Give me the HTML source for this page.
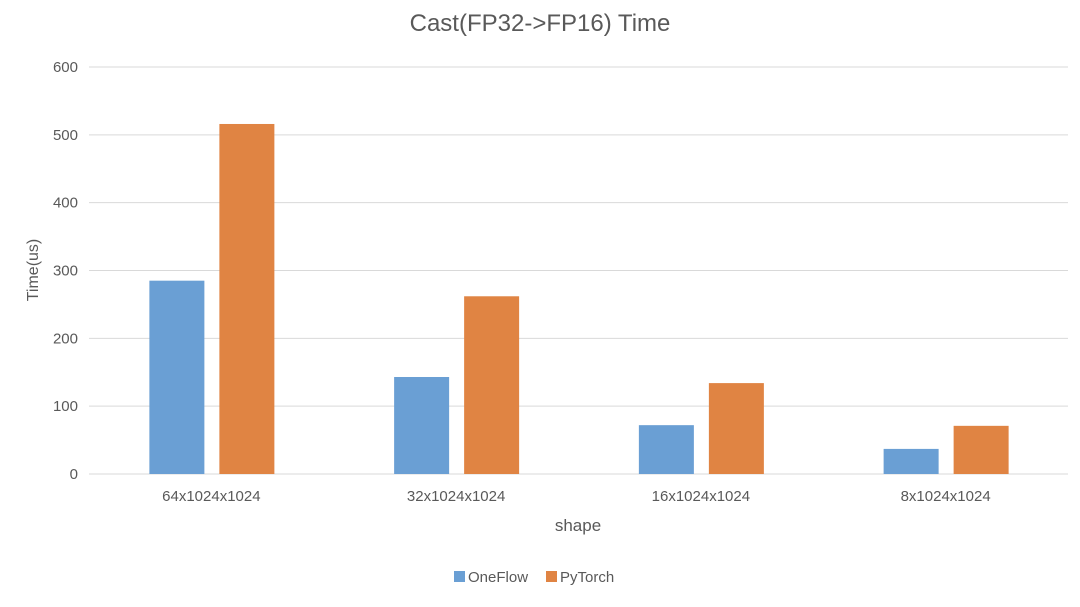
<!DOCTYPE html>
<html><head><meta charset="utf-8"><style>
body{margin:0;background:#fff;font-family:"Liberation Sans",sans-serif}
svg text{font-family:"Liberation Sans",sans-serif;fill:#595959}
</style></head><body>
<svg id="chart" width="1080" height="602">
<text x="540" y="31" text-anchor="middle" font-size="24">Cast(FP32-&gt;FP16) Time</text>
<g id="grid"></g><g id="bars"></g><g id="xl"></g>
<text x="38" y="270" text-anchor="middle" font-size="16" transform="rotate(-90 38 270)">Time(us)</text>
<text x="578" y="531" text-anchor="middle" font-size="17">shape</text>
<g>
<rect x="454" y="571" width="11" height="11" fill="#6a9fd4"/>
<text x="468" y="582" font-size="15">OneFlow</text>
<rect x="546" y="571" width="11" height="11" fill="#e08443"/>
<text x="560" y="582" font-size="15">PyTorch</text>
</g>
</svg>
<script>
const categories=["64x1024x1024","32x1024x1024","16x1024x1024","8x1024x1024"];
const oneflow=[285,143,72,37];
const pytorch=[516,262,134,71];
const yTicks=[0,100,200,300,400,500,600];
const L=89,R=1068,Y0=474,Y600=67;
const y=v=>Y0-(v/600)*(Y0-Y600);
const bw=(R-L)/categories.length;
const ns="http://www.w3.org/2000/svg";
function mk(t,a,p){const e=document.createElementNS(ns,t);for(const k in a)e.setAttribute(k,a[k]);document.getElementById(p).appendChild(e);return e;}
yTicks.forEach(t=>{
 const l=mk("line",{x1:L,x2:R,y1:y(t),y2:y(t),stroke:"#d9d9d9","stroke-width":1},"grid");
 
 
 const tx=mk("text",{x:78,y:y(t)+5,"text-anchor":"end","font-size":15},"grid");tx.textContent=t;
 
 
});
categories.forEach((c,i)=>{
 const cx=L+bw*(i+0.5);
 const b=mk("rect",{x:cx-62,y:y(oneflow[i]),width:55,height:Y0-y(oneflow[i]),fill:"#6a9fd4"},"bars");
 
 
 const o=mk("rect",{x:cx+8,y:y(pytorch[i]),width:55,height:Y0-y(pytorch[i]),fill:"#e08443"},"bars");
 
 
 const t=mk("text",{x:cx,y:501,"text-anchor":"middle","font-size":15},"xl");t.textContent=c;
 
 
});
</script>
</body></html>
